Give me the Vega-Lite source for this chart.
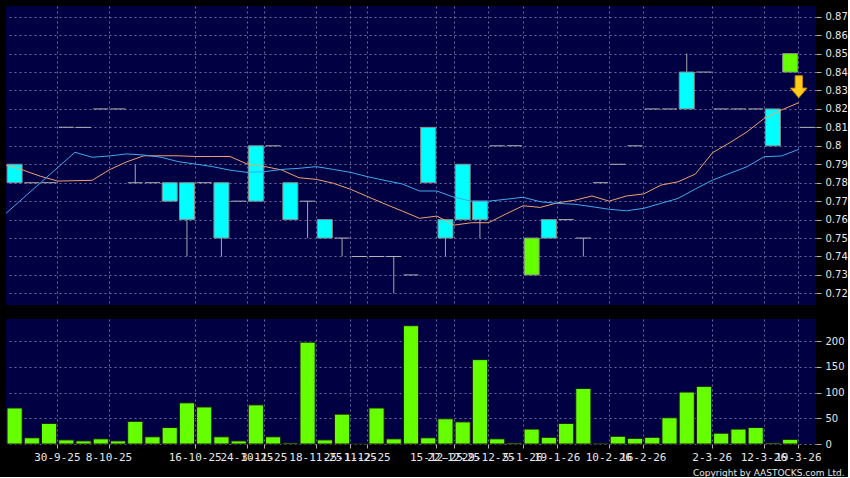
{
  "$schema": "https://vega.github.io/schema/vega-lite/v6.json",
  "background": "#000000",
  "padding": {"left": 4, "top": 6, "right": 0, "bottom": 0},
  "spacing": 14,
  "config": {
    "view": {"fill": "#000042", "stroke": null},
    "axis": {
      "labelFont": "DejaVu Sans",
      "labelFontSize": 10,
      "labelColor": "#e6e6e6",
      "tickColor": "#b0b0b0",
      "gridColor": "#6a6aa0",
      "gridDash": [2, 3],
      "gridWidth": 1,
      "domain": false,
      "labelOverlap": false
    }
  },
  "datasets": {
    "candles": [
      {"i": 0, "o": 0.79, "c": 0.78, "h": 0.79, "l": 0.78, "v": 70, "dir": "down"},
      {"i": 1, "o": 0.78, "c": 0.78, "h": 0.78, "l": 0.78, "v": 12, "dir": "flat"},
      {"i": 2, "o": 0.78, "c": 0.78, "h": 0.78, "l": 0.78, "v": 40, "dir": "flat"},
      {"i": 3, "o": 0.81, "c": 0.81, "h": 0.81, "l": 0.81, "v": 8, "dir": "flat"},
      {"i": 4, "o": 0.81, "c": 0.81, "h": 0.81, "l": 0.81, "v": 6, "dir": "flat"},
      {"i": 5, "o": 0.82, "c": 0.82, "h": 0.82, "l": 0.82, "v": 10, "dir": "flat"},
      {"i": 6, "o": 0.82, "c": 0.82, "h": 0.82, "l": 0.82, "v": 6, "dir": "flat"},
      {"i": 7, "o": 0.78, "c": 0.78, "h": 0.79, "l": 0.78, "v": 44, "dir": "flat"},
      {"i": 8, "o": 0.78, "c": 0.78, "h": 0.78, "l": 0.78, "v": 14, "dir": "flat"},
      {"i": 9, "o": 0.78, "c": 0.77, "h": 0.78, "l": 0.77, "v": 32, "dir": "down"},
      {"i": 10, "o": 0.78, "c": 0.76, "h": 0.78, "l": 0.74, "v": 80, "dir": "down"},
      {"i": 11, "o": 0.78, "c": 0.78, "h": 0.78, "l": 0.78, "v": 72, "dir": "flat"},
      {"i": 12, "o": 0.78, "c": 0.75, "h": 0.78, "l": 0.74, "v": 14, "dir": "down"},
      {"i": 13, "o": 0.77, "c": 0.77, "h": 0.77, "l": 0.77, "v": 6, "dir": "flat"},
      {"i": 14, "o": 0.80, "c": 0.77, "h": 0.80, "l": 0.77, "v": 76, "dir": "down"},
      {"i": 15, "o": 0.80, "c": 0.80, "h": 0.80, "l": 0.80, "v": 14, "dir": "flat"},
      {"i": 16, "o": 0.78, "c": 0.76, "h": 0.78, "l": 0.76, "v": 2, "dir": "down"},
      {"i": 17, "o": 0.77, "c": 0.77, "h": 0.77, "l": 0.75, "v": 198, "dir": "flat"},
      {"i": 18, "o": 0.76, "c": 0.75, "h": 0.76, "l": 0.75, "v": 8, "dir": "down"},
      {"i": 19, "o": 0.75, "c": 0.75, "h": 0.75, "l": 0.74, "v": 58, "dir": "flat"},
      {"i": 20, "o": 0.74, "c": 0.74, "h": 0.74, "l": 0.74, "v": 1, "dir": "flat"},
      {"i": 21, "o": 0.74, "c": 0.74, "h": 0.74, "l": 0.74, "v": 70, "dir": "flat"},
      {"i": 22, "o": 0.74, "c": 0.74, "h": 0.74, "l": 0.72, "v": 10, "dir": "flat"},
      {"i": 23, "o": 0.73, "c": 0.73, "h": 0.73, "l": 0.73, "v": 230, "dir": "flat"},
      {"i": 24, "o": 0.81, "c": 0.78, "h": 0.81, "l": 0.78, "v": 12, "dir": "down"},
      {"i": 25, "o": 0.76, "c": 0.75, "h": 0.76, "l": 0.74, "v": 49, "dir": "down"},
      {"i": 26, "o": 0.79, "c": 0.76, "h": 0.79, "l": 0.76, "v": 43, "dir": "down"},
      {"i": 27, "o": 0.77, "c": 0.76, "h": 0.77, "l": 0.75, "v": 164, "dir": "down"},
      {"i": 28, "o": 0.80, "c": 0.80, "h": 0.80, "l": 0.80, "v": 10, "dir": "flat"},
      {"i": 29, "o": 0.80, "c": 0.80, "h": 0.80, "l": 0.80, "v": 2, "dir": "flat"},
      {"i": 30, "o": 0.73, "c": 0.75, "h": 0.75, "l": 0.73, "v": 29, "dir": "up"},
      {"i": 31, "o": 0.76, "c": 0.75, "h": 0.76, "l": 0.75, "v": 13, "dir": "down"},
      {"i": 32, "o": 0.76, "c": 0.76, "h": 0.76, "l": 0.76, "v": 40, "dir": "flat"},
      {"i": 33, "o": 0.75, "c": 0.75, "h": 0.75, "l": 0.74, "v": 108, "dir": "flat"},
      {"i": 34, "o": 0.78, "c": 0.78, "h": 0.78, "l": 0.78, "v": 1.5, "dir": "flat"},
      {"i": 35, "o": 0.79, "c": 0.79, "h": 0.79, "l": 0.79, "v": 15, "dir": "flat"},
      {"i": 36, "o": 0.80, "c": 0.80, "h": 0.80, "l": 0.80, "v": 11, "dir": "flat"},
      {"i": 37, "o": 0.82, "c": 0.82, "h": 0.82, "l": 0.82, "v": 13, "dir": "flat"},
      {"i": 38, "o": 0.82, "c": 0.82, "h": 0.82, "l": 0.82, "v": 51, "dir": "flat"},
      {"i": 39, "o": 0.84, "c": 0.82, "h": 0.85, "l": 0.82, "v": 101, "dir": "down"},
      {"i": 40, "o": 0.84, "c": 0.84, "h": 0.84, "l": 0.84, "v": 112, "dir": "flat"},
      {"i": 41, "o": 0.82, "c": 0.82, "h": 0.82, "l": 0.82, "v": 21, "dir": "flat"},
      {"i": 42, "o": 0.82, "c": 0.82, "h": 0.82, "l": 0.82, "v": 29, "dir": "flat"},
      {"i": 43, "o": 0.82, "c": 0.82, "h": 0.82, "l": 0.82, "v": 32, "dir": "flat"},
      {"i": 44, "o": 0.82, "c": 0.80, "h": 0.82, "l": 0.80, "v": 2, "dir": "down"},
      {"i": 45, "o": 0.84, "c": 0.85, "h": 0.85, "l": 0.84, "v": 9, "dir": "up"},
      {"i": 46, "o": 0.81, "c": 0.81, "h": 0.81, "l": 0.81, "dir": "flat"}
    ],
    "maOrange": [
      {"k": 0, "v": 0.7896}, {"k": 1, "v": 0.7868}, {"k": 2, "v": 0.7835}, {"k": 3, "v": 0.7809},
      {"k": 4, "v": 0.7811}, {"k": 5, "v": 0.7813}, {"k": 6, "v": 0.787}, {"k": 7, "v": 0.7913},
      {"k": 8, "v": 0.7946}, {"k": 9, "v": 0.7946}, {"k": 10, "v": 0.7946}, {"k": 11, "v": 0.7942},
      {"k": 12, "v": 0.7942}, {"k": 13, "v": 0.7942}, {"k": 14, "v": 0.7901}, {"k": 15, "v": 0.7888},
      {"k": 16, "v": 0.7869}, {"k": 17, "v": 0.7827}, {"k": 18, "v": 0.7818}, {"k": 19, "v": 0.7797},
      {"k": 20, "v": 0.7764}, {"k": 21, "v": 0.7724}, {"k": 22, "v": 0.7684}, {"k": 23, "v": 0.7646},
      {"k": 24, "v": 0.7607}, {"k": 25, "v": 0.7619}, {"k": 26, "v": 0.757}, {"k": 27, "v": 0.7583},
      {"k": 28, "v": 0.7583}, {"k": 29, "v": 0.763}, {"k": 30, "v": 0.7675}, {"k": 31, "v": 0.7666},
      {"k": 32, "v": 0.7691}, {"k": 33, "v": 0.7705}, {"k": 34, "v": 0.7728}, {"k": 35, "v": 0.77},
      {"k": 36, "v": 0.7728}, {"k": 37, "v": 0.7739}, {"k": 38, "v": 0.7787}, {"k": 39, "v": 0.7805},
      {"k": 40, "v": 0.7847}, {"k": 41, "v": 0.7963}, {"k": 42, "v": 0.8017}, {"k": 43, "v": 0.8076},
      {"k": 44, "v": 0.8149}, {"k": 45, "v": 0.8194}, {"k": 46, "v": 0.8234}
    ],
    "maBlue": [
      {"k": 0, "v": 0.7634}, {"k": 4, "v": 0.7965}, {"k": 5, "v": 0.7938}, {"k": 6, "v": 0.7945},
      {"k": 7, "v": 0.7956}, {"k": 8, "v": 0.795}, {"k": 9, "v": 0.7938}, {"k": 10, "v": 0.7914},
      {"k": 11, "v": 0.7901}, {"k": 12, "v": 0.7887}, {"k": 13, "v": 0.7868}, {"k": 14, "v": 0.7856},
      {"k": 15, "v": 0.786}, {"k": 16, "v": 0.7872}, {"k": 17, "v": 0.7878}, {"k": 18, "v": 0.7887},
      {"k": 19, "v": 0.7872}, {"k": 20, "v": 0.7856}, {"k": 21, "v": 0.7832}, {"k": 22, "v": 0.7812},
      {"k": 23, "v": 0.7793}, {"k": 24, "v": 0.7755}, {"k": 25, "v": 0.7755}, {"k": 26, "v": 0.7721},
      {"k": 27, "v": 0.77}, {"k": 28, "v": 0.77}, {"k": 29, "v": 0.771}, {"k": 30, "v": 0.7721},
      {"k": 31, "v": 0.7697}, {"k": 32, "v": 0.7688}, {"k": 33, "v": 0.7683}, {"k": 34, "v": 0.767},
      {"k": 35, "v": 0.7656}, {"k": 36, "v": 0.7648}, {"k": 37, "v": 0.7661}, {"k": 38, "v": 0.7688},
      {"k": 39, "v": 0.7715}, {"k": 40, "v": 0.7766}, {"k": 41, "v": 0.7814}, {"k": 42, "v": 0.7851},
      {"k": 43, "v": 0.7887}, {"k": 44, "v": 0.7941}, {"k": 45, "v": 0.7945}, {"k": 46, "v": 0.7981}
    ],
    "arrow": [{"k": 46, "v": 0.832}]
  },
  "vconcat": [
    {
      "width": 810,
      "height": 299,
      "layer": [
        {
          "data": {"name": "candles"},
          "mark": {"type": "rule", "color": "#a8a8a8", "strokeWidth": 1},
          "encoding": {
            "x": {
              "field": "i", "type": "ordinal", "title": null,
              "scale": {"domain": [0,1,2,3,4,5,6,7,8,9,10,11,12,13,14,15,16,17,18,19,20,21,22,23,24,25,26,27,28,29,30,31,32,33,34,35,36,37,38,39,40,41,42,43,44,45,46], "paddingInner": 0, "paddingOuter": 0},
              "axis": {"values": [3,6,11,14,15,18,20,21,25,26,28,30,32,35,37,41,44,46], "bandPosition": 0, "grid": true, "ticks": false, "labels": false, "domain": false, "title": null}
            },
            "y": {
              "field": "l", "type": "quantitative", "title": null,
              "scale": {"domain": [0.7137, 0.8758], "zero": false, "nice": false},
              "axis": {"orient": "right", "values": [0.72,0.73,0.74,0.75,0.76,0.77,0.78,0.79,0.8,0.81,0.82,0.83,0.84,0.85,0.86,0.87], "tickCount": 20, "format": ".2~f", "tickSize": 5, "labelPadding": 4, "grid": true, "labelOverlap": false, "title": null}
            },
            "y2": {"field": "h"}
          }
        },
        {
          "data": {"name": "candles"},
          "transform": [{"filter": "datum.o != datum.c"}],
          "mark": {"type": "bar", "width": {"band": 0.87}, "stroke": "#8c8c8c", "strokeWidth": 1},
          "encoding": {
            "x": {"field": "i", "type": "ordinal"},
            "y": {"field": "o", "type": "quantitative"},
            "y2": {"field": "c"},
            "color": {"field": "dir", "type": "nominal", "scale": {"domain": ["down", "up"], "range": ["#00ffff", "#66ff00"]}, "legend": null}
          }
        },
        {
          "data": {"name": "candles"},
          "transform": [{"filter": "datum.o == datum.c"}],
          "mark": {"type": "tick", "orient": "horizontal", "size": 15, "thickness": 1, "color": "#b4b4b4", "opacity": 1},
          "encoding": {
            "x": {"field": "i", "type": "ordinal"},
            "y": {"field": "o", "type": "quantitative"}
          }
        },
        {
          "data": {"name": "maOrange"},
          "mark": {"type": "line", "color": "#f0a070", "strokeWidth": 1},
          "encoding": {
            "x": {"field": "k", "type": "ordinal", "bandPosition": 0},
            "y": {"field": "v", "type": "quantitative"}
          }
        },
        {
          "data": {"name": "maBlue"},
          "mark": {"type": "line", "color": "#40a8ee", "strokeWidth": 1},
          "encoding": {
            "x": {"field": "k", "type": "ordinal", "bandPosition": 0},
            "y": {"field": "v", "type": "quantitative"}
          }
        },
        {
          "data": {"name": "arrow"},
          "mark": {"type": "point", "shape": "M-0.33,-1 L0.33,-1 L0.33,0.12 L0.75,0.12 L0,1 L-0.75,0.12 L-0.33,0.12 Z", "size": 484, "filled": true, "fill": "#ffcc1a", "stroke": "#d08a00", "strokeWidth": 1, "opacity": 1},
          "encoding": {
            "x": {"field": "k", "type": "ordinal", "bandPosition": 0},
            "y": {"field": "v", "type": "quantitative"}
          }
        }
      ]
    },
    {
      "width": 810,
      "height": 125,
      "data": {"name": "candles"},
      "mark": {"type": "bar", "width": {"band": 0.88}, "color": "#66ff00", "stroke": "#1a1a1a", "strokeWidth": 1},
      "encoding": {
        "x": {
          "field": "i", "type": "ordinal", "title": null,
          "scale": {"domain": [0,1,2,3,4,5,6,7,8,9,10,11,12,13,14,15,16,17,18,19,20,21,22,23,24,25,26,27,28,29,30,31,32,33,34,35,36,37,38,39,40,41,42,43,44,45,46], "paddingInner": 0, "paddingOuter": 0},
          "axis": {
            "values": [3,6,11,14,15,18,20,21,25,26,28,30,32,35,37,41,44,46],
            "bandPosition": 0, "grid": true, "ticks": true, "tickSize": 4, "labels": true,
            "labelFont": "DejaVu Sans Mono", "labelFontSize": 11, "labelPadding": 3, "labelAngle": 0, "labelOverlap": false, "labelFlush": false, "labelBound": false, "labelOffset": -9,
            "labelExpr": "{'3':'30-9-25','6':'8-10-25','11':'16-10-25','14':'24-10-25','15':'3-11-25','18':'18-11-25','20':'25-11-25','21':'1-12-25','25':'15-12-25','26':'22-12-25','28':'29-12-25','30':'5-1-26','32':'19-1-26','35':'10-2-26','37':'16-2-26','41':'2-3-26','44':'12-3-26','46':'19-3-26'}[datum.label]",
            "title": "Copyright by AASTOCKS.com Ltd.",
            "titleFont": "DejaVu Sans", "titleFontSize": 9, "titleFontWeight": "normal", "titleColor": "#e6e6e6",
            "titleAnchor": "end", "titleAlign": "right", "titleBaseline": "middle", "titleX": 838, "titleY": 28
          }
        },
        "y": {
          "field": "v", "type": "quantitative", "title": null,
          "scale": {"domain": [0, 243], "nice": false},
          "axis": {"orient": "right", "values": [0, 50, 100, 150, 200], "tickCount": 10, "tickSize": 5, "labelPadding": 4, "grid": true, "title": null}
        }
      }
    }
  ]
}
